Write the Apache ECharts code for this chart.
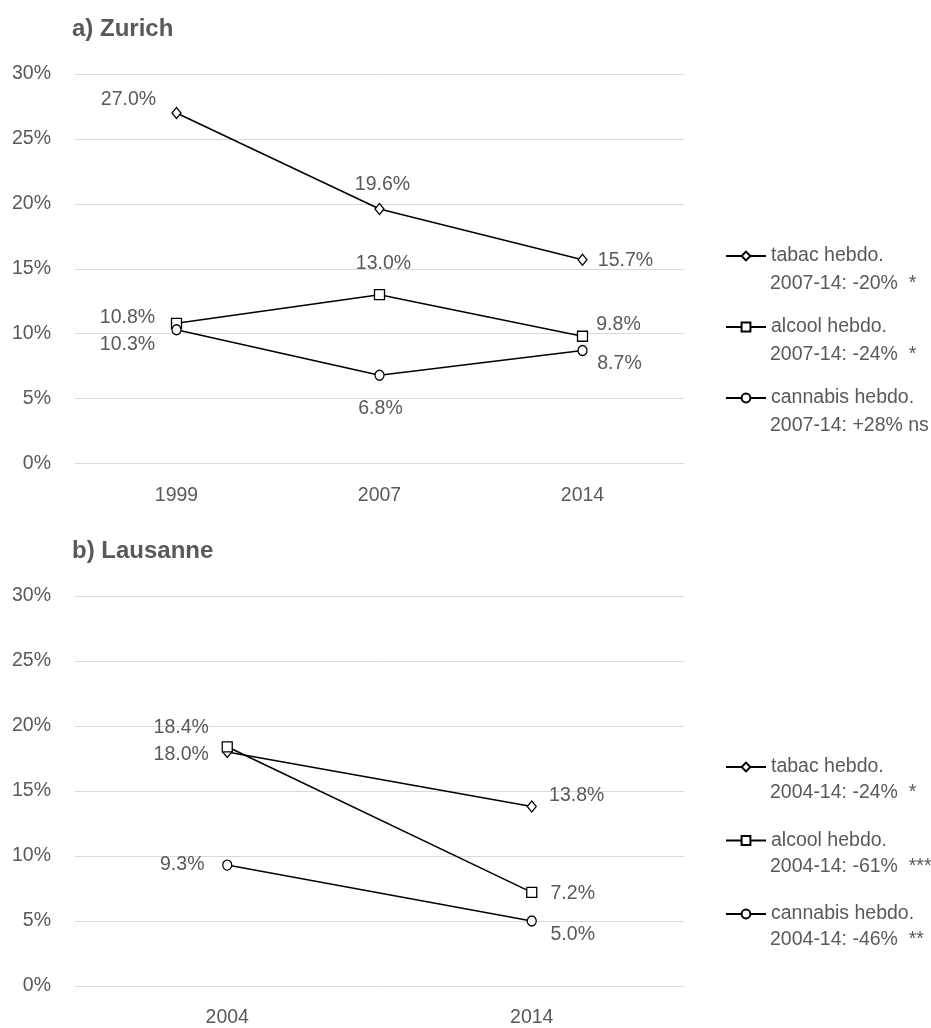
<!DOCTYPE html>
<html>
<head>
<meta charset="utf-8">
<script src="https://cdn.jsdelivr.net/npm/echarts@6/dist/echarts.min.js"></script>
<style>
  html, body { margin: 0; padding: 0; background: #fff; }
  #chart { width: 931px; height: 1028px; }
</style>
</head>
<body>
<div id="chart"></div>
<script>
// Weekly use of tobacco, alcohol and cannabis (%), two cities
const seriesNames = ['tabac hebdo.', 'alcool hebdo.', 'cannabis hebdo.'];

const zurichYears = ['1999', '2007', '2014'];
const zurichTabac = [27.0, 19.6, 15.7];
const zurichAlcool = [10.8, 13.0, 9.8];
const zurichCannabis = [10.3, 6.8, 8.7];
const zurichTests = ['2007-14: -20%  *', '2007-14: -24%  *', '2007-14: +28% ns'];

const lausanneYears = ['2004', '2014'];
const lausanneTabac = [18.0, 13.8];
const lausanneAlcool = [18.4, 7.2];
const lausanneCannabis = [9.3, 5.0];
const lausanneTests = ['2004-14: -24%  *', '2004-14: -61%  ***', '2004-14: -46%  **'];

const yMin = 0, yMax = 30, yStep = 5;

// label placement (offset of the label centre from its point, px)
const zurichLabelOffsets = [
  [[-48, -13], [3, -24], [43, 1]],
  [[-49, -6], [4, -31], [36, -12]],
  [[-49, 15], [1, 33], [37, 13]]
];
const lausanneLabelOffsets = [
  [[-46, 3], [45, -11]],
  [[-46, -19], [41, 1]],
  [[-45, 0], [41, 14]]
];

const FONT = '"Liberation Sans", Arial, sans-serif';
const GREY = '#595959';
const FS = 19.5;
const symbols = ['diamond', 'rect', 'circle'];
const symbolSizes = [[9, 11], 10, [9, 10]];

const chart = echarts.init(document.getElementById('chart'), null, { renderer: 'canvas' });

function makeSeries(values, offsets, gridIndex) {
  return values.map((vals, s) => ({
    name: seriesNames[s],
    type: 'line',
    xAxisIndex: gridIndex,
    yAxisIndex: gridIndex,
    symbol: symbols[s],
    symbolSize: symbolSizes[s],
    showAllSymbol: true,
    z: 2 + s,
    lineStyle: { color: '#000', width: 1.5 },
    itemStyle: { color: '#fff', borderColor: '#000', borderWidth: 1.3 },
    emphasis: { disabled: true },
    label: {
      show: true,
      position: 'inside',
      fontFamily: FONT,
      fontSize: FS,
      color: GREY,
      formatter: p => p.value.toFixed(1) + '%'
    },
    data: vals.map((v, i) => ({ value: v, label: { offset: offsets[s][i] } }))
  }));
}

function yAxis(gridIndex) {
  return {
    type: 'value', gridIndex, min: yMin, max: yMax, interval: yStep,
    axisLine: { show: false }, axisTick: { show: false },
    splitLine: { lineStyle: { color: '#d9d9d9', width: 1 } },
    axisLabel: { formatter: '{value}%', fontFamily: FONT, fontSize: FS, color: GREY, margin: 24 }
  };
}

function xAxis(gridIndex, cats) {
  return {
    type: 'category', gridIndex, data: cats, boundaryGap: true,
    axisLine: { show: false }, axisTick: { show: false },
    axisLabel: { fontFamily: FONT, fontSize: FS, color: GREY, margin: 22 }
  };
}

function legend(top, gap) {
  return {
    orient: 'vertical', left: 725, top, itemGap: gap, padding: 0,
    itemWidth: 40, itemHeight: 11, selectedMode: false,
    data: seriesNames,
    textStyle: { fontFamily: FONT, fontSize: FS, color: GREY, lineHeight: 22 }
  };
}

function testLabels(texts, firstY, step) {
  return texts.map((t, i) => ({
    type: 'text', left: 770, top: firstY + i * step - 9,
    style: { text: t, font: FS + 'px ' + FONT, fill: GREY }
  }));
}

const titleStyle = { fontFamily: FONT, fontSize: 24, fontWeight: 'bold', color: GREY };

const option = {
  animation: false,
  backgroundColor: '#fff',
  title: [
    { text: 'a) Zurich', left: 72, top: 17, padding: 0, textStyle: titleStyle },
    { text: 'b) Lausanne', left: 72, top: 539, padding: 0, textStyle: titleStyle }
  ],
  grid: [
    { left: 75, right: 247, top: 74, height: 389.5 },
    { left: 75, right: 247, top: 596, height: 390 }
  ],
  xAxis: [xAxis(0, zurichYears), xAxis(1, lausanneYears)],
  yAxis: [yAxis(0), yAxis(1)],
  legend: [legend(245, 49), legend(756, 51.5)],
  graphic: [
    ...testLabels(zurichTests, 283, 71),
    ...testLabels(lausanneTests, 792, 73.5)
  ],
  series: [
    ...makeSeries([zurichTabac, zurichAlcool, zurichCannabis], zurichLabelOffsets, 0),
    ...makeSeries([lausanneTabac, lausanneAlcool, lausanneCannabis], lausanneLabelOffsets, 1)
  ]
};

chart.setOption(option);
</script>
</body>
</html>
